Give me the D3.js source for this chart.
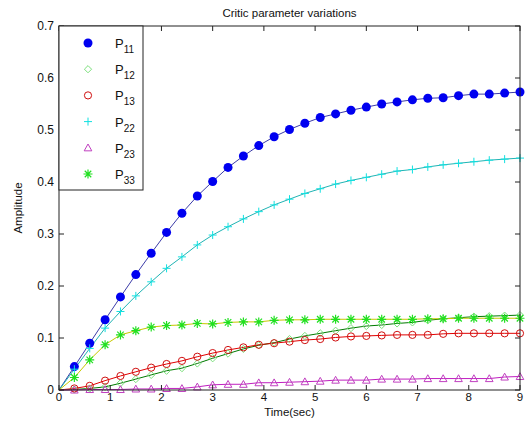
<!DOCTYPE html>
<html>
<head>
<meta charset="utf-8">
<script src="https://cdn.jsdelivr.net/npm/d3@7"></script>
<style>
  body { margin: 0; background: #fff; }
  svg { display: block; font-family: "Liberation Sans", Arial, sans-serif; }
</style>
</head>
<body>
<svg id="chart" width="529" height="430"></svg>
<script>
// Sample times (sec)
const time = [0, 0.3, 0.6, 0.9, 1.2, 1.5, 1.8, 2.1, 2.4, 2.7, 3.0, 3.3, 3.6, 3.9, 4.2, 4.5,
  4.8, 5.1, 5.4, 5.7, 6.0, 6.3, 6.6, 6.9, 7.2, 7.5, 7.8, 8.1, 8.4, 8.7, 9.0];

// Amplitudes
const p11 = [0, 0.045, 0.090, 0.135, 0.179, 0.222, 0.263, 0.303, 0.340, 0.373, 0.401, 0.428, 0.450, 0.470,
  0.487, 0.501, 0.513, 0.524, 0.531, 0.538, 0.544, 0.550, 0.554, 0.558, 0.561, 0.562, 0.566, 0.569, 0.569, 0.571, 0.573];
const p12 = [0, 0.001, 0.003, 0.006, 0.013, 0.021, 0.029, 0.037, 0.042, 0.051, 0.061, 0.070, 0.079, 0.086,
  0.091, 0.098, 0.104, 0.109, 0.114, 0.119, 0.123, 0.125, 0.128, 0.130, 0.134, 0.137, 0.139, 0.141, 0.142, 0.143, 0.144];
const p13 = [0, 0.003, 0.008, 0.018, 0.027, 0.035, 0.043, 0.050, 0.056, 0.064, 0.071, 0.077, 0.082, 0.087,
  0.090, 0.093, 0.096, 0.098, 0.101, 0.103, 0.104, 0.105, 0.106, 0.106, 0.106, 0.108, 0.109, 0.109, 0.109, 0.109, 0.109];
const p22 = [0, 0.040, 0.080, 0.119, 0.151, 0.181, 0.208, 0.234, 0.256, 0.279, 0.298, 0.314, 0.329, 0.343,
  0.356, 0.367, 0.378, 0.387, 0.396, 0.403, 0.409, 0.415, 0.421, 0.424, 0.429, 0.433, 0.436, 0.439, 0.442, 0.444, 0.446];
const p23 = [0, 0.000, 0.001, 0.001, 0.001, 0.002, 0.002, 0.003, 0.003, 0.006, 0.010, 0.011, 0.011, 0.014,
  0.014, 0.015, 0.016, 0.017, 0.019, 0.019, 0.019, 0.021, 0.021, 0.021, 0.022, 0.022, 0.022, 0.022, 0.022, 0.025, 0.026];
const p33 = [0, 0.024, 0.058, 0.087, 0.106, 0.114, 0.121, 0.124, 0.125, 0.128, 0.127, 0.130, 0.131, 0.131,
  0.134, 0.135, 0.135, 0.136, 0.136, 0.136, 0.136, 0.136, 0.136, 0.136, 0.137, 0.137, 0.138, 0.138, 0.138, 0.138, 0.138];

const xTicks = [0, 1, 2, 3, 4, 5, 6, 7, 8, 9];
const yTicks = [0, 0.1, 0.2, 0.3, 0.4, 0.5, 0.6, 0.7];

const series = [
  { sub: "11", values: p11, line: "#3c3ca8", marker: "dot",      color: "#0000f0" },
  { sub: "12", values: p12, line: "#007a00", marker: "diamond",  color: "#7ce07c" },
  { sub: "13", values: p13, line: "#e00000", marker: "circle",   color: "#d01010" },
  { sub: "22", values: p22, line: "#20b4b4", marker: "plus",     color: "#10e0e0" },
  { sub: "23", values: p23, line: "#c020c0", marker: "triangle", color: "#c040c0" },
  { sub: "33", values: p33, line: "#c8c800", marker: "star",     color: "#20e020" }
];

const svg = d3.select("#chart");
const margin = { left: 59, right: 9, top: 26, bottom: 40 };
const width = 529 - margin.left - margin.right;
const height = 430 - margin.top - margin.bottom;

const x = d3.scaleLinear().domain([0, 9]).range([margin.left, margin.left + width]);
const y = d3.scaleLinear().domain([0, 0.7]).range([margin.top + height, margin.top]);

// Draw one marker at (cx, cy)
function drawMarker(g, type, cx, cy, color) {
  if (type === "dot") {
    g.append("circle").attr("cx", cx).attr("cy", cy).attr("r", 4.5).attr("fill", color);
  } else if (type === "circle") {
    g.append("circle").attr("cx", cx).attr("cy", cy).attr("r", 3.6)
      .attr("fill", "none").attr("stroke", color).attr("stroke-width", 1);
  } else if (type === "diamond") {
    const s = 3.6;
    g.append("path").attr("d", `M${cx},${cy - s}L${cx + s},${cy}L${cx},${cy + s}L${cx - s},${cy}Z`)
      .attr("fill", "none").attr("stroke", color).attr("stroke-width", 1);
  } else if (type === "triangle") {
    const s = 3.8;
    g.append("path").attr("d", `M${cx},${cy - s}L${cx + s},${cy + s * 0.8}L${cx - s},${cy + s * 0.8}Z`)
      .attr("fill", "none").attr("stroke", color).attr("stroke-width", 1);
  } else if (type === "plus") {
    const s = 4;
    g.append("path").attr("d", `M${cx - s},${cy}L${cx + s},${cy}M${cx},${cy - s}L${cx},${cy + s}`)
      .attr("stroke", color).attr("stroke-width", 1);
  } else if (type === "star") {
    const s = 4.5, d = s * 0.72;
    g.append("path")
      .attr("d", `M${cx - s},${cy}L${cx + s},${cy}M${cx},${cy - s}L${cx},${cy + s}` +
        `M${cx - d},${cy - d}L${cx + d},${cy + d}M${cx - d},${cy + d}L${cx + d},${cy - d}`)
      .attr("stroke", color).attr("stroke-width", 1.2);
  }
}

const line = d3.line().x((d, i) => x(time[i])).y(d => y(d));

// Curves and markers
series.forEach(s => {
  svg.append("path").datum(s.values)
    .attr("d", line)
    .attr("fill", "none")
    .attr("stroke", s.line)
    .attr("stroke-width", 1);
});
series.forEach(s => {
  const g = svg.append("g");
  s.values.forEach((v, i) => {
    if (i === 0) return;
    drawMarker(g, s.marker, x(time[i]), y(v), s.color);
  });
});

// Box and ticks (MATLAB style: inward ticks on all sides)
const axisColor = "#222";
svg.append("rect")
  .attr("x", margin.left).attr("y", margin.top)
  .attr("width", width).attr("height", height)
  .attr("fill", "none").attr("stroke", axisColor).attr("stroke-width", 1);

const tickLen = 5;
xTicks.forEach(t => {
  svg.append("line").attr("x1", x(t)).attr("x2", x(t))
    .attr("y1", y(0)).attr("y2", y(0) - tickLen).attr("stroke", axisColor);
  svg.append("line").attr("x1", x(t)).attr("x2", x(t))
    .attr("y1", y(0.7)).attr("y2", y(0.7) + tickLen).attr("stroke", axisColor);
  svg.append("text").attr("x", x(t)).attr("y", y(0) + 11)
    .attr("text-anchor", "middle").attr("font-size", 11.5).attr("fill", "#111")
    .text(t);
});
yTicks.forEach(t => {
  svg.append("line").attr("x1", x(0)).attr("x2", x(0) + tickLen)
    .attr("y1", y(t)).attr("y2", y(t)).attr("stroke", axisColor);
  svg.append("line").attr("x1", x(9)).attr("x2", x(9) - tickLen)
    .attr("y1", y(t)).attr("y2", y(t)).attr("stroke", axisColor);
  svg.append("text").attr("x", x(0) - 5).attr("y", y(t) + 4)
    .attr("text-anchor", "end").attr("font-size", 12).attr("fill", "#111")
    .text(t === 0 ? "0" : d3.format(".1f")(t));
});

// Titles
svg.append("text").attr("x", x(4.5)).attr("y", 17)
  .attr("text-anchor", "middle").attr("font-size", 11.5).attr("fill", "#111")
  .text("Critic parameter variations");
svg.append("text").attr("x", x(4.5)).attr("y", 416)
  .attr("text-anchor", "middle").attr("font-size", 11.5).attr("fill", "#111")
  .text("Time(sec)");
svg.append("text")
  .attr("transform", `translate(22,${y(0.35)}) rotate(-90)`)
  .attr("text-anchor", "middle").attr("font-size", 11.5).attr("fill", "#111")
  .text("Amplitude");

// Legend
const legend = svg.append("g");
legend.append("rect")
  .attr("x", margin.left).attr("y", margin.top)
  .attr("width", 84).attr("height", 164)
  .attr("fill", "#fff").attr("stroke", axisColor).attr("stroke-width", 1);
series.forEach((s, i) => {
  const ly = 43 + i * 26.2;
  drawMarker(legend, s.marker, 88, ly, s.color);
  const txt = legend.append("text").attr("x", 115).attr("y", ly + 5)
    .attr("font-size", 13).attr("fill", "#111");
  txt.append("tspan").text("P");
  txt.append("tspan").attr("dy", 5).attr("font-size", 10).text(s.sub);
});
</script>
</body>
</html>
